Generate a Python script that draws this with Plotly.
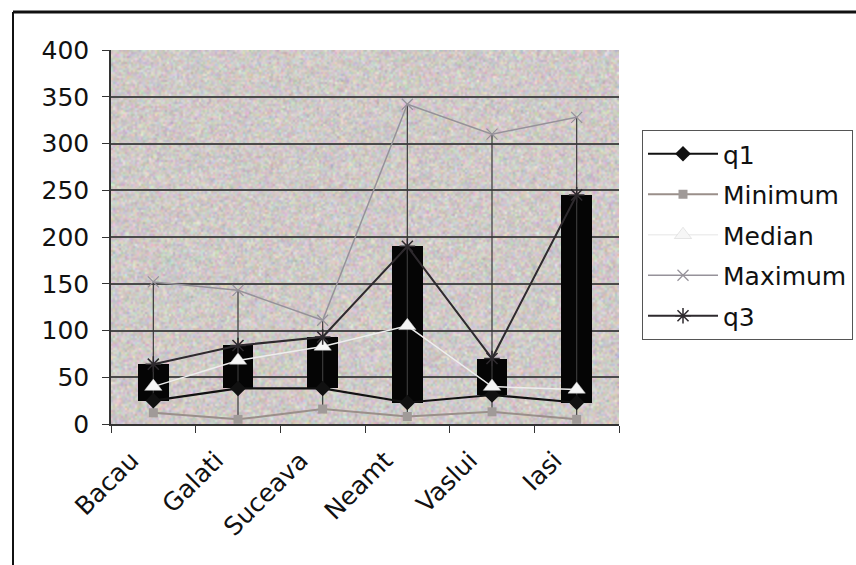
import base64
import struct
import zlib

import numpy as np
import plotly.graph_objects as go

# Five-number summary per county
categories = ["Bacau", "Galati", "Suceava", "Neamt", "Vaslui", "Iasi"]
q1 = [25, 38, 38, 23, 31, 23]
minimum = [12, 5, 16, 8, 13, 5]
median = [40, 68, 83, 105, 40, 37]
maximum = [152, 143, 111, 342, 310, 328]
q3 = [64, 84, 93, 190, 70, 245]
y_ticks = [0, 50, 100, 150, 200, 250, 300, 350, 400]

FONT = "DejaVu Sans, Arial, sans-serif"


def png_data_uri(rgb):
    """Encode an HxWx3 uint8 array as a PNG data URI."""
    h, w, _ = rgb.shape
    raw = b"".join(b"\x00" + rgb[i].tobytes() for i in range(h))

    def chunk(tag, data):
        body = tag + data
        return struct.pack(">I", len(data)) + body + struct.pack(">I", zlib.crc32(body) & 0xFFFFFFFF)

    png = (b"\x89PNG\r\n\x1a\n"
           + chunk(b"IHDR", struct.pack(">IIBBBBB", w, h, 8, 2, 0, 0, 0))
           + chunk(b"IDAT", zlib.compress(raw, 9))
           + chunk(b"IEND", b""))
    return "data:image/png;base64," + base64.b64encode(png).decode()


# speckled pastel texture for the plot-area fill
rng = np.random.default_rng(7)
tex_h, tex_w = 187, 254
base = np.array([208.0, 202.0, 200.0])
tex = base + rng.normal(0, 12, (tex_h, tex_w, 3)) + rng.normal(0, 6, (tex_h, tex_w, 1))
texture = png_data_uri(np.clip(tex, 0, 255).astype(np.uint8))

fig = go.Figure()

# high-low lines from minimum to maximum
hl_x, hl_y = [], []
for c, lo, hi in zip(categories, minimum, maximum):
    hl_x += [c, c, None]
    hl_y += [lo, hi, None]
fig.add_trace(go.Scatter(x=hl_x, y=hl_y, mode="lines",
                         line=dict(color="#3a3a3a", width=1.2),
                         showlegend=False, hoverinfo="skip"))

# up bars spanning q1 -> q3
fig.add_trace(go.Bar(x=categories, y=[b - a for a, b in zip(q1, q3)], base=q1,
                     marker=dict(color="#050505", line=dict(width=0)),
                     width=0.36, showlegend=False, hoverinfo="skip"))

fig.add_trace(go.Scatter(x=categories, y=q1, name="q1", mode="lines+markers",
                         line=dict(color="#111111", width=2.2),
                         marker=dict(symbol="diamond", size=12, color="#111111"),
                         legendgroup="a"))
fig.add_trace(go.Scatter(x=categories, y=minimum, name="Minimum", mode="lines+markers",
                         line=dict(color="#9a8f8a", width=2),
                         marker=dict(symbol="square", size=9, color="#a09a98"),
                         legendgroup="b"))
fig.add_trace(go.Scatter(x=categories, y=median, name="Median", mode="lines+markers",
                         line=dict(color="#eeeeee", width=1.5),
                         marker=dict(symbol="triangle-up", size=15, color="#f6f6f6",
                                     line=dict(color="#d0d0d0", width=0.5)),
                         legendgroup="c"))
fig.add_trace(go.Scatter(x=categories, y=maximum, name="Maximum", mode="lines+markers",
                         line=dict(color="#96929a", width=1.5),
                         marker=dict(symbol="x-thin", size=11,
                                     line=dict(color="#96929a", width=1.2)),
                         legendgroup="d"))
fig.add_trace(go.Scatter(x=categories, y=q3, name="q3", mode="lines+markers",
                         line=dict(color="#2e2a2e", width=2),
                         marker=dict(symbol="asterisk", size=13,
                                     line=dict(color="#2e2a2e", width=1.5)),
                         legendgroup="e"))


def px_x(p):
    return (p - 111) / 508.0


def px_y(p):
    return (424 - p) / 374.0


shapes = [
    # outer chart frame
    dict(type="line", xref="paper", yref="paper", x0=px_x(13), x1=px_x(870),
         y0=px_y(12), y1=px_y(12), line=dict(color="#111111", width=3)),
    dict(type="line", xref="paper", yref="paper", x0=px_x(13), x1=px_x(13),
         y0=px_y(12), y1=px_y(565), line=dict(color="#111111", width=2)),
]

fig.update_layout(
    width=856, height=565,
    margin=dict(l=111, r=237, t=50, b=141, autoexpand=False),
    paper_bgcolor="white",
    plot_bgcolor="#d0cac8",
    font=dict(family=FONT, size=25, color="#111111"),
    bargap=0,
    shapes=shapes,
    images=[dict(source=texture, xref="paper", yref="paper", x=0, y=1,
                 sizex=1, sizey=1, xanchor="left", yanchor="top",
                 sizing="stretch", layer="below")],
    legend=dict(x=px_x(642), y=px_y(130), xanchor="left", yanchor="top",
                bgcolor="white", bordercolor="#555555", borderwidth=1,
                font=dict(family=FONT, size=25, color="#111111"),
                tracegroupgap=5, itemwidth=70),
    xaxis=dict(type="category", categoryorder="array", categoryarray=categories,
               range=[-0.5, 5.5], showgrid=False, showline=True,
               linecolor="#333333", linewidth=1.5, ticks="outside",
               tickson="boundaries", ticklen=7, tickcolor="#333333",
               tickangle=-45, tickfont=dict(size=25), ticklabelshift=-22,
               ticklabelstandoff=10, zeroline=False),
    yaxis=dict(range=[0, 400], tickvals=y_ticks, showgrid=True,
               gridcolor="#4a4a4a", gridwidth=1.5, showline=True,
               linecolor="#333333", linewidth=1.5, ticks="outside",
               ticklen=7, tickcolor="#333333", zeroline=False,
               ticklabelstandoff=8, tickfont=dict(size=25)),
)

fig.write_html("out.html")
